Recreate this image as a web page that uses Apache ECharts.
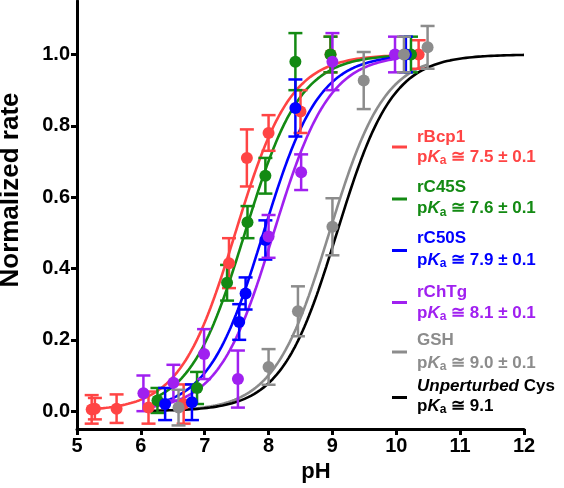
<!DOCTYPE html>
<html><head><meta charset="utf-8">
<script src="https://cdn.jsdelivr.net/npm/echarts@6/dist/echarts.min.js"></script>
<style>html,body{margin:0;padding:0;background:#fff}#c{width:564px;height:488px}</style>
</head><body><div id="c"></div>
<script>
// ---- data (pH, normalized rate, error) ----
const names = ['rBcp1', 'rC45S', 'rC50S', 'rChTg', 'GSH', 'Unperturbed Cys'];
const colors = ['#FF4444', '#138A13', '#0000FF', '#A020F0', '#8C8C8C', '#000000'];
const pKaFit = [7.48, 7.63, 7.92, 8.08, 8.95, 9.07];
const pKaText = ['7.5 ± 0.1', '7.6 ± 0.1', '7.9 ± 0.1', '8.1 ± 0.1', '9.0 ± 0.1', '9.1'];
const curveRange = [[5.2, 10.35], [6.2, 10.23], [6.3, 10.15], [6.05, 9.98], [6.5, 10.49], [6.1, 12]];

const rBcp1 = [[5.23, 0.005, 0.04], [5.28, 0.007, 0.03], [5.62, 0.007, 0.04], [6.12, 0.01, 0.045], [6.67, 0.02, 0.055],
  [7.38, 0.415, 0.07], [7.66, 0.71, 0.08], [8.00, 0.78, 0.05], [8.50, 0.84, 0.06], [8.97, 1.0, 0.05], [10.35, 1.0, 0.04]];
const rC45S = [[6.26, 0.03, 0.035], [6.88, 0.065, 0.045], [7.35, 0.36, 0.05], [7.67, 0.53, 0.045], [7.95, 0.66, 0.05],
  [8.42, 0.98, 0.08], [8.97, 1.0, 0.05], [10.23, 1.0, 0.05]];
const rC50S = [[6.38, 0.02, 0.045], [6.80, 0.025, 0.05], [7.54, 0.25, 0.05], [7.64, 0.33, 0.045], [7.95, 0.48, 0.055],
  [8.42, 0.85, 0.08], [10.15, 1.0, 0.05]];
const rChTg = [[6.04, 0.05, 0.05], [6.51, 0.08, 0.05], [6.99, 0.16, 0.07], [7.52, 0.09, 0.08], [8.00, 0.49, 0.06],
  [8.51, 0.67, 0.05], [9.00, 0.98, 0.08], [9.98, 1.0, 0.05]];
const GSH = [[6.59, 0.01, 0.05], [8.00, 0.124, 0.05], [8.46, 0.28, 0.07], [9.00, 0.517, 0.08], [9.49, 0.927, 0.08],
  [10.12, 1.0, 0.05], [10.49, 1.02, 0.06]];
const pointSets = [rBcp1, rC45S, rC50S, rChTg, GSH, null];

const xTicks = [5, 6, 7, 8, 9, 10, 11, 12];
const yTicks = [0, 0.2, 0.4, 0.6, 0.8, 1.0];

// ---- build ----
const FONT = 'Liberation Sans, Arial, sans-serif';

function fitCurve(pKa, range) {
  const pts = [];
  const n = 240;
  for (let i = 0; i <= n; i++) {
    const x = range[0] + (range[1] - range[0]) * i / n;
    pts.push([x, 1 / (1 + Math.pow(10, pKa - x))]);
  }
  return pts;
}

function errRender(color) {
  return function (params, api) {
    const x = api.value(0), y = api.value(1), e = api.value(2);
    const top = api.coord([x, y + e]), bot = api.coord([x, y - e]);
    const hw = 7;
    const style = { stroke: color, lineWidth: 2.5 };
    return {
      type: 'group', children: [
        { type: 'line', shape: { x1: top[0], y1: top[1], x2: bot[0], y2: bot[1] }, style: style },
        { type: 'line', shape: { x1: top[0] - hw, y1: top[1], x2: top[0] + hw, y2: top[1] }, style: style },
        { type: 'line', shape: { x1: bot[0] - hw, y1: bot[1], x2: bot[0] + hw, y2: bot[1] }, style: style }
      ]
    };
  };
}

const series = [];
for (let i = 0; i < names.length; i++) {
  series.push({
    type: 'line', data: fitCurve(pKaFit[i], curveRange[i]), showSymbol: false, symbol: 'none',
    lineStyle: { color: colors[i], width: 2.6 }, z: 2, silent: true
  });
}
for (let i = 0; i < names.length; i++) {
  if (!pointSets[i]) continue;
  series.push({ type: 'custom', data: pointSets[i], renderItem: errRender(colors[i]), clip: false, z: 3 });
  series.push({
    type: 'scatter', data: pointSets[i].map(d => [d[0], d[1]]), symbol: 'circle', symbolSize: 12,
    itemStyle: { color: colors[i], opacity: 1 }, z: 3
  });
}

const nameY = [137, 187.5, 238.5, 292, 340, 386];
const pkY = [157, 208.5, 260, 313, 363, 406];
const dashY = [147, 199, 250.5, 302.5, 352, 397.5];

const graphics = [];
for (let i = 0; i < names.length; i++) {
  graphics.push({
    type: 'line', shape: { x1: 392, y1: dashY[i], x2: 407, y2: dashY[i] },
    style: { stroke: colors[i], lineWidth: 3 }
  });
  const nameText = i === 5 ? '{it|Unperturbed}{n| Cys}' : '{n|' + names[i] + '}';
  graphics.push({
    type: 'text', x: 417, y: nameY[i],
    style: {
      text: nameText, fill: colors[i], font: 'bold 17px ' + FONT,
      textVerticalAlign: 'middle', verticalAlign: 'middle',
      rich: {
        n: { fill: colors[i], fontSize: 17, fontWeight: 'bold', fontFamily: FONT, lineHeight: 20 },
        it: { fill: colors[i], fontSize: 17, fontWeight: 'bold', fontStyle: 'italic', fontFamily: FONT, lineHeight: 20 }
      }
    }
  });
  graphics.push({
    type: 'text', x: 417, y: pkY[i],
    style: {
      text: '{p|p}{k|K}{s|a}{n| ≅ ' + pKaText[i] + '}', fill: colors[i], font: 'bold 17px ' + FONT,
      textVerticalAlign: 'middle', verticalAlign: 'middle',
      rich: {
        p: { fill: colors[i], fontSize: 17, fontWeight: 'bold', fontFamily: FONT, lineHeight: 20 },
        k: { fill: colors[i], fontSize: 17, fontWeight: 'bold', fontStyle: 'italic', fontFamily: FONT, lineHeight: 20 },
        s: { fill: colors[i], fontSize: 12, fontWeight: 'bold', fontFamily: FONT, lineHeight: 10, verticalAlign: 'bottom' },
        n: { fill: colors[i], fontSize: 17, fontWeight: 'bold', fontFamily: FONT, lineHeight: 20 }
      }
    }
  });
}
graphics.push({
  type: 'text', x: 11, y: 190, rotation: Math.PI / 2,
  style: { text: 'Normalized rate', fill: '#000', font: 'bold 26px ' + FONT,
    textAlign: 'center', textVerticalAlign: 'middle', align: 'center', verticalAlign: 'middle' }
});
graphics.push({
  type: 'text', x: 316, y: 472,
  style: { text: 'pH', fill: '#000', font: 'bold 22px ' + FONT,
    textAlign: 'center', textVerticalAlign: 'middle', align: 'center', verticalAlign: 'middle' }
});

const chart = echarts.init(document.getElementById('c'), null, { renderer: 'canvas' });
chart.setOption({
  animation: false,
  backgroundColor: '#fff',
  grid: { left: 77, right: 40, top: 1, bottom: 59, containLabel: false },
  xAxis: {
    type: 'value', min: xTicks[0], max: xTicks[xTicks.length - 1], interval: 1,
    axisLine: { onZero: false, lineStyle: { color: '#000', width: 3 } },
    axisTick: { show: true, length: 6, lineStyle: { color: '#000', width: 3 } },
    axisLabel: { color: '#000', fontSize: 20, fontWeight: 'bold', fontFamily: FONT, margin: 7 },
    splitLine: { show: false }
  },
  yAxis: {
    type: 'value', min: -0.05, max: 1.15,
    axisLine: { onZero: false, lineStyle: { color: '#000', width: 3 } },
    axisTick: { show: true, length: 6, lineStyle: { color: '#000', width: 3 }, customValues: yTicks },
    axisLabel: { color: '#000', fontSize: 20, fontWeight: 'bold', fontFamily: FONT, margin: 7,
      customValues: yTicks, formatter: v => v.toFixed(1) },
    splitLine: { show: false }
  },
  graphic: graphics,
  series: series
});
</script>
</body></html>
